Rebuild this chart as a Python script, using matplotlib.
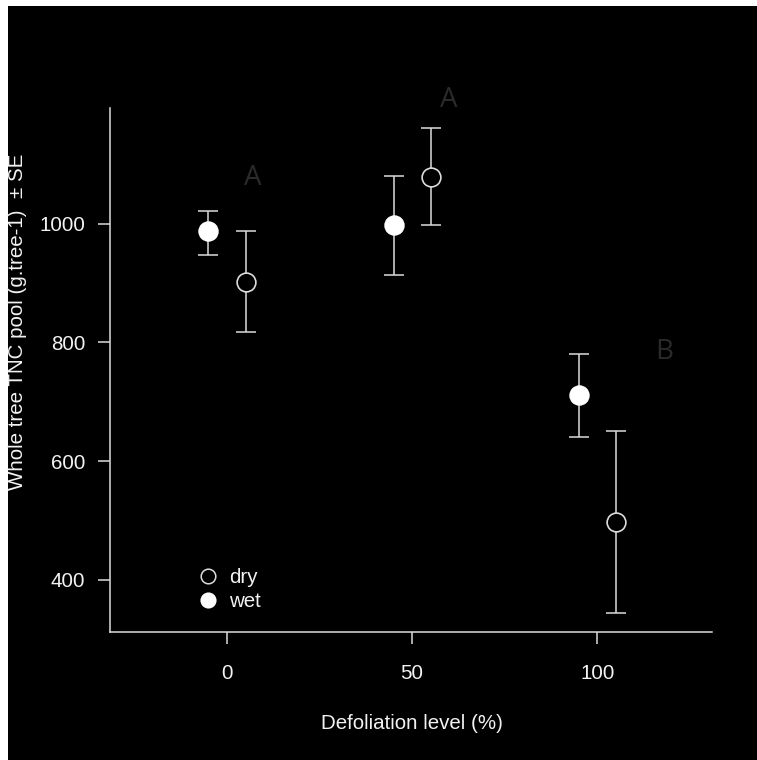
import matplotlib
matplotlib.use("Agg")
import matplotlib.pyplot as plt
from matplotlib.patches import Rectangle
from matplotlib.lines import Line2D

# data (defoliation level, TNC pool +/- SE)
wet_x = [-5, 45, 95]
wet_y = [987, 997, 712]
wet_lo = [948, 914, 641]
wet_hi = [1022, 1081, 781]

dry_x = [5, 55, 105]
dry_y = [902, 1079, 498]
dry_lo = [818, 997, 344]
dry_hi = [988, 1162, 651]

letters = ["A", "A", "B"]
letter_x = [7, 60, 118]
letter_y = [1077, 1209, 784]

xticks = [0, 50, 100]
yticks = [400, 600, 800, 1000]

line_col = "#dcdcdc"
text_col = "#f2f2f2"
fs = 14.8

plt.rcParams['font.family'] = ['Liberation Sans', 'DejaVu Sans']

fig = plt.figure(figsize=(7.57, 7.60), dpi=100, facecolor="white")
# black panel with a thin white margin at left/top
fig.patches.append(Rectangle((8 / 757, 0), 1 - 8 / 757, 1 - 6 / 760,
                             transform=fig.transFigure, facecolor="black",
                             edgecolor="none", zorder=-10))

ax = fig.add_axes([110 / 757, 1 - 632 / 760, 602 / 757, 524 / 760])
ax.set_facecolor("black")
ax.patch.set_alpha(0)

# error bars
def err(xs, ys, lo, hi):
    yerr = [[y - l for y, l in zip(ys, lo)], [h - y for y, h in zip(ys, hi)]]
    ax.errorbar(xs, ys, yerr=yerr, fmt="none", ecolor=line_col, elinewidth=1.1,
                capsize=7.2, capthick=1.1, zorder=2)

err(wet_x, wet_y, wet_lo, wet_hi)
err(dry_x, dry_y, dry_lo, dry_hi)

ax.plot(wet_x, wet_y, "o", ms=13.5, mfc="white", mec="white", mew=1.2,
        ls="none", zorder=3)
ax.plot(dry_x, dry_y, "o", ms=13.5, mfc="black", mec=line_col, mew=1.2,
        ls="none", zorder=3)

for t, x, y in zip(letters, letter_x, letter_y):
    ax.text(x, y, t, ha="center", va="center", fontsize=20, color="#2a2a2a",
            family=["Open Sans", "DejaVu Sans"], clip_on=False)

ax.set_xlim(-31.6, 131)
ax.set_ylim(312, 1195)
ax.set_xticks(xticks)
ax.set_yticks(yticks)

for s in ["top", "right"]:
    ax.spines[s].set_visible(False)
for s in ["left", "bottom"]:
    ax.spines[s].set_color(line_col)
    ax.spines[s].set_linewidth(1.1)

ax.tick_params(axis="both", colors=line_col, labelcolor=text_col,
               labelsize=fs, length=8.6, width=1.1)
ax.tick_params(axis="y", pad=9.4)
ax.tick_params(axis="x", pad=14.5)

ax.set_xlabel("Defoliation level (%)", fontsize=fs, color=text_col, va="center")
ax.set_ylabel("Whole tree TNC pool (g.tree-1)  \u00b1 SE", fontsize=fs,
              color=text_col, va="center")
ax.xaxis.set_label_coords(0.502, -0.174)
ax.yaxis.set_label_coords(-0.153, 0.592)

handles = [
    Line2D([], [], marker="o", ls="none", ms=10.5, mfc="black", mec=line_col, mew=1.1),
    Line2D([], [], marker="o", ls="none", ms=10.5, mfc="white", mec="white", mew=1.1),
]
leg = ax.legend(handles, ["dry", "wet"], loc="center left",
                bbox_to_anchor=(0.146, 0.081), frameon=False, fontsize=fs,
                handlelength=1.0, handletextpad=0.5, borderpad=0,
                borderaxespad=0, labelspacing=0.25)
for t in leg.get_texts():
    t.set_color(text_col)

fig.savefig("out.png", dpi=100, facecolor=fig.get_facecolor())
